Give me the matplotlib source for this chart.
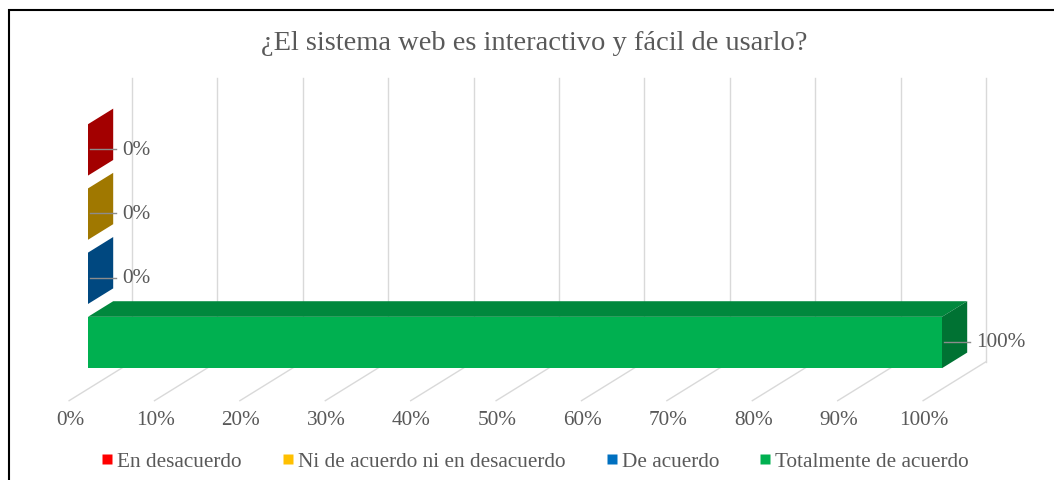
import matplotlib
matplotlib.use("Agg")
import matplotlib.pyplot as plt
from matplotlib.patches import Polygon, Rectangle
from matplotlib.lines import Line2D

# ---------------- data ----------------
title = "¿El sistema web es interactivo y fácil de usarlo?"
categories = ["Totalmente de acuerdo", "De acuerdo",
              "Ni de acuerdo ni en desacuerdo", "En desacuerdo"]   # bottom -> top
values = [100, 0, 0, 0]
value_labels = ["100%", "0%", "0%", "0%"]
tick_values = [0, 10, 20, 30, 40, 50, 60, 70, 80, 90, 100]
tick_labels = ["0%", "10%", "20%", "30%", "40%", "50%", "60%", "70%", "80%", "90%", "100%"]
legend_order = ["En desacuerdo", "Ni de acuerdo ni en desacuerdo",
                "De acuerdo", "Totalmente de acuerdo"]

# ---------------- styles ----------------
legend_colors = {"En desacuerdo": "#FF0000",
                 "Ni de acuerdo ni en desacuerdo": "#FFC000",
                 "De acuerdo": "#0070C0",
                 "Totalmente de acuerdo": "#00B050"}
front_colors = {"En desacuerdo": "#C00000",
                "Ni de acuerdo ni en desacuerdo": "#C09000",
                "De acuerdo": "#00548F",
                "Totalmente de acuerdo": "#00B050"}
top_colors = {"En desacuerdo": "#B80000",
              "Ni de acuerdo ni en desacuerdo": "#B08500",
              "De acuerdo": "#005088",
              "Totalmente de acuerdo": "#00883D"}
side_colors = {"En desacuerdo": "#A30000",
               "Ni de acuerdo ni en desacuerdo": "#A07800",
               "De acuerdo": "#004880",
               "Totalmente de acuerdo": "#007233"}
TXT = "#595959"
GRID = "#D9D9D9"
FONT = "Liberation Serif"
FS = 15.3

W, H = 1054, 481
fig = plt.figure(figsize=(W / 100, H / 100), dpi=100)
ax = fig.add_axes([0, 0, 1, 1])
PX_X = 8.54     # pixels per percent
PX_Y = 64.2     # pixels per category step
X0 = 88.0       # pixel of 0 % on bar front plane
Y0 = 343.5      # pixel of first category centre
ax.set_xlim(-X0 / PX_X, (W - X0) / PX_X)
ax.set_ylim(-(H - Y0) / PX_Y, Y0 / PX_Y)
ax.axis("off")

# depth vector (full depth of the 3-D box) in data units
DX, DY = 63 / PX_X, 39 / PX_Y
T_FRONT = 0.3   # depth of bar front face
T_BACK = 0.7    # depth of bar back face
Y_FLOOR = -0.724
Y_WALL_TOP = 3.69
BAR_H = 0.8


def P(x, y, t):
    return (x + (t - T_FRONT) * DX, y + (t - T_FRONT) * DY)


# back wall gridlines and floor lines
for tv, tl in zip(tick_values, tick_labels):
    a = P(tv, Y_FLOOR, 1.0)
    b = P(tv, Y_WALL_TOP, 1.0)
    ax.plot([a[0], b[0]], [a[1], b[1]], color=GRID, lw=1.0, zorder=1)
    f = P(tv, Y_FLOOR, 0.0)
    ax.plot([f[0], a[0]], [f[1], a[1]], color=GRID, lw=1.0, zorder=1)
    ax.text(f[0] + 0.1, f[1] - 19 / PX_Y, tl, ha="center", va="center",
            fontsize=FS, family=FONT, color=TXT)

# 3-D bars
sx, sy = (T_BACK - T_FRONT) * DX, (T_BACK - T_FRONT) * DY
for i, (cat, v) in enumerate(zip(categories, values)):
    y = i
    h = BAR_H / 2
    ax.barh(y, v, height=BAR_H, left=0, color=front_colors[cat],
            edgecolor="none", zorder=3)
    top = Polygon([(0, y + h), (v, y + h), (v + sx, y + h + sy), (sx, y + h + sy)],
                  closed=True, facecolor=top_colors[cat], edgecolor="none", zorder=3)
    side = Polygon([(v, y - h), (v, y + h), (v + sx, y + h + sy), (v + sx, y - h + sy)],
                   closed=True, facecolor=side_colors[cat], edgecolor="none", zorder=3)
    ax.add_patch(top)
    ax.add_patch(side)

# data labels with leader lines
for i, (v, lab) in enumerate(zip(values, value_labels)):
    y = i + 0.01
    ax.plot([v + 0.2, v + 3.3], [y, y], color="#8C8C8C", lw=1.0, zorder=4)
    ax.text(v + 4.0, y, lab, ha="left", va="center", fontsize=FS,
            family=FONT, color=TXT, zorder=5)

# title
fig.text(534 / W, 1 - 43 / H, title, ha="center", va="center",
         fontsize=20.5, family=FONT, color=TXT)

# legend
handles = [Line2D([], [], marker="s", linestyle="none", markersize=7.2,
                  markerfacecolor=legend_colors[c], markeredgecolor="none")
           for c in legend_order]
fig.legend(handles, legend_order, loc="center", ncol=4, frameon=False,
           bbox_to_anchor=(535 / W, 1 - 462 / H), handlelength=0.55,
           handletextpad=0.2, columnspacing=1.9,
           prop={"family": FONT, "size": FS}, labelcolor=TXT)

# outer frame
fig.patches.append(Rectangle((9 / W, -0.1), 1.2, 1.1 - 11 / H,
                             transform=fig.transFigure, fill=False,
                             edgecolor="black", lw=1.5))

fig.savefig("out.png", dpi=100)
